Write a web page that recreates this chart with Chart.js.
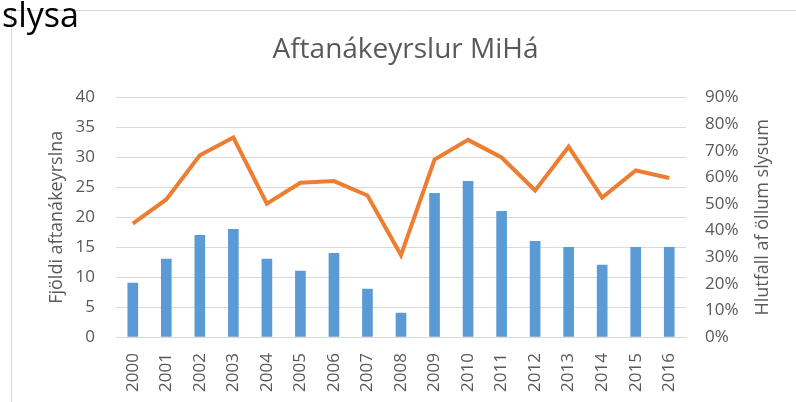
<!DOCTYPE html>
<html>
<head>
<meta charset="utf-8">
<script src="https://cdn.jsdelivr.net/npm/chart.js@4.4.0/dist/chart.umd.min.js"></script>
<style>
  html, body { margin: 0; padding: 0; background: #fff; }
  #wrap { width: 796px; height: 402px; position: relative; }
</style>
</head>
<body>
<div id="wrap"><canvas id="myChart" width="796" height="402"></canvas></div>
<script>
// ---------------------------------------- data ----------------------------------------
const years = ['2000', '2001', '2002', '2003', '2004', '2005', '2006', '2007', '2008',
  '2009', '2010', '2011', '2012', '2013', '2014', '2015', '2016'];
const fjoldi = [9, 13, 17, 18, 13, 11, 14, 8, 4, 24, 26, 21, 16, 15, 12, 15, 15];
const hlutfall = [42.6, 51.7, 68.3, 75, 50.1, 58, 58.6, 53.2, 30.8, 66.7, 74.1, 67.5, 55.1, 71.5, 52.4, 62.6, 59.8];

const gray = '#595959';
const tickFont = { family: 'Open Sans', size: 17 };
const titleFont = { family: 'Open Sans', size: 18 };

// frame, stray "slysa" text, and right axis title (reads bottom-up like the left one)
const framePlugin = {
  id: 'frame',
  beforeDraw(chart) {
    const ctx = chart.ctx;
    ctx.save();
    ctx.strokeStyle = '#D9D9D9';
    ctx.lineWidth = 1;
    ctx.beginPath();
    ctx.moveTo(11.5, 402);
    ctx.lineTo(11.5, 10.5);
    ctx.lineTo(796, 10.5);
    ctx.stroke();
    ctx.restore();
  },
  afterDraw(chart) {
    const ctx = chart.ctx;
    const area = chart.chartArea;
    ctx.save();
    ctx.fillStyle = '#000';
    ctx.font = '34px "Open Sans"';
    ctx.textBaseline = 'alphabetic';
    ctx.fillText('slysa', 2, 27);

    ctx.translate(763, (area.top + area.bottom) / 2);
    ctx.rotate(-Math.PI / 2);
    ctx.fillStyle = gray;
    ctx.font = '18px "Open Sans"';
    ctx.textAlign = 'center';
    ctx.textBaseline = 'middle';
    ctx.fillText('Hlutfall af öllum slysum', 0, 0);
    ctx.restore();
  }
};

const myChart = new Chart(document.getElementById('myChart'), {
  data: {
    labels: years,
    datasets: [{
        type: 'line',
        label: 'Hlutfall',
        data: hlutfall,
        yAxisID: 'y1',
        borderColor: '#ED7D31',
        borderWidth: 4,
        pointRadius: 0,
        tension: 0,
        order: 0
      },
      {
        type: 'bar',
        label: 'Fjöldi',
        data: fjoldi,
        yAxisID: 'y',
        backgroundColor: '#5B9BD5',
        barThickness: 10,
        order: 1
      }
    ]
  },
  options: {
    responsive: false,
    animation: false,
    layout: { padding: { left: 40, right: 25, top: 0, bottom: 0 } },
    plugins: {
      legend: { display: false },
      tooltip: { enabled: false },
      title: {
        display: true,
        text: 'Aftanákeyrslur MiHá',
        color: gray,
        font: { family: 'Open Sans', size: 28, weight: 'normal' },
        padding: { top: 33, bottom: 31 }
      }
    },
    scales: {
      x: {
        grid: { display: false, drawTicks: false },
        border: { color: '#D9D9D9' },
        ticks: { color: gray, font: tickFont, maxRotation: 90, minRotation: 90, padding: 16 },
        afterFit(s) { s.height = 65; }
      },
      y: {
        position: 'left',
        min: 0,
        max: 40,
        grid: { color: '#D9D9D9', drawTicks: false },
        border: { display: false },
        ticks: { stepSize: 5, color: gray, font: tickFont, padding: 21 },
        title: { display: true, text: 'Fjöldi aftanákeyrslna', color: gray, font: titleFont, padding: 6 },
        afterFit(s) { s.width = 76; }
      },
      y1: {
        position: 'right',
        min: 0,
        max: 90,
        grid: { display: false, drawTicks: false },
        border: { display: false },
        ticks: {
          stepSize: 10,
          color: gray,
          font: tickFont,
          padding: 19,
          callback: v => v + '%'
        },
        afterFit(s) { s.width = 85; }
      }
    }
  },
  plugins: [framePlugin]
});
</script>
</body>
</html>
